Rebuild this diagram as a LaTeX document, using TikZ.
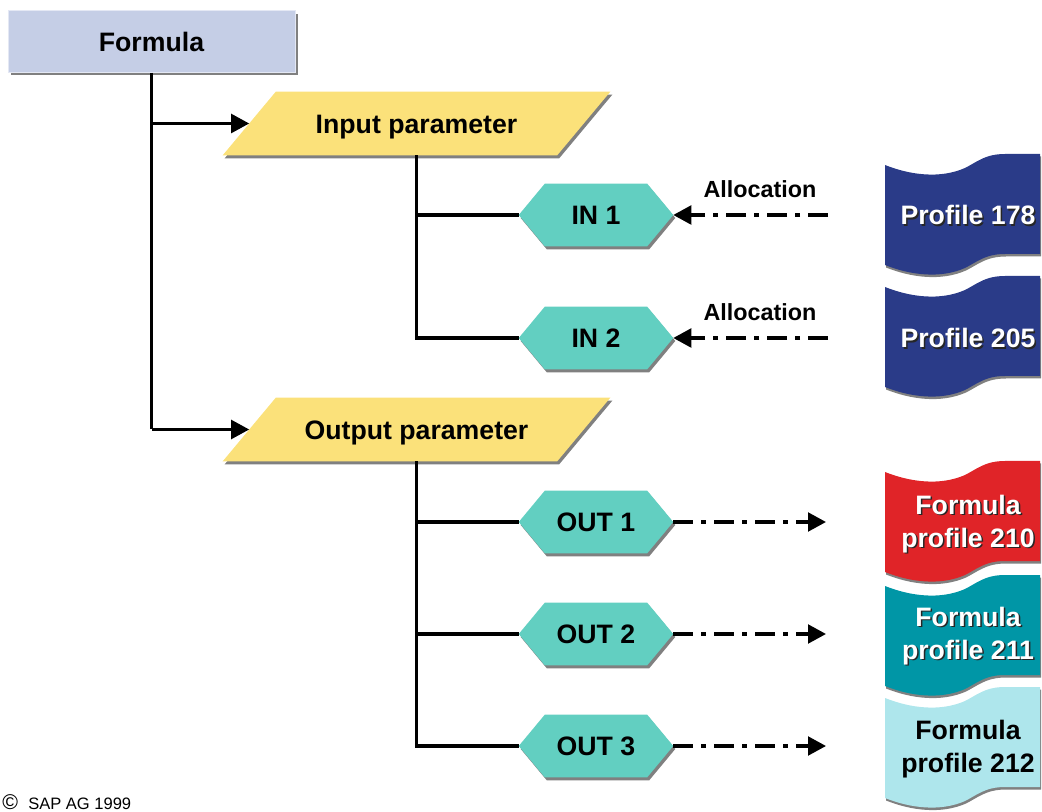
\documentclass[tikz,border=0pt]{standalone}
\usepackage{fontspec}
\setmainfont{Liberation Sans}
\usetikzlibrary{arrows.meta,calc,backgrounds}

\definecolor{formulafill}{HTML}{C5CEE6}
\definecolor{formulaedge}{HTML}{E4E8F4}
\definecolor{paramfill}{HTML}{FBE17A}
\definecolor{hexfill}{HTML}{62CFC1}
\definecolor{profblue}{HTML}{2A3B88}
\definecolor{profred}{HTML}{E02428}
\definecolor{profteal}{HTML}{0096A6}
\definecolor{proflight}{HTML}{AEE6EC}
\definecolor{shadowgray}{HTML}{808080}

\tikzset{
  mainfont/.style={font=\fontsize{20}{24.75}\selectfont\bfseries},
  captext/.style={text height=14.3pt, text depth=0pt},
  formulabox/.style={mainfont, captext, minimum width=215.25pt, minimum height=46.5pt, inner sep=0pt},
  parbox/.style={mainfont, captext, minimum width=250.5pt, minimum height=47.25pt, inner sep=0pt},
  hexbox/.style={mainfont, captext, minimum width=115.5pt, minimum height=46.5pt, inner sep=0pt},
  wire/.style={line width=2.4pt},
  wirearrow/.style={wire, -{Triangle[length=13.5pt,width=14pt]}},
  flowarrow/.style={line width=2.4pt, dash pattern=on 15pt off 6pt on 3.75pt off 6pt,
    -{Triangle[length=13.5pt,width=14pt]}},
  alloclabel/.style={font=\fontsize{17.5}{21}\selectfont\bfseries},
  proftext/.style={mainfont, align=center, text=white, inner sep=0pt},
  profshade/.style={mainfont, align=center, text=black!85, inner sep=0pt},
  profdark/.style={mainfont, align=center, text=black, inner sep=0pt},
}

% slanted parameter box: text node plus parallelogram behind it
\newcommand\slantbox[3]{%
  \node[parbox] (#1) at #2 {#3};
  \begin{pgfonlayer}{background}
    \fill[shadowgray] ($(#1.north west)+(28.5,3)$) -- ($(#1.north east)+(28.5,3)$)
      -- ($(#1.south east)+(-24.5,3)$) -- ($(#1.south west)+(-24.5,3)$) -- cycle;
    \fill[paramfill] ($(#1.north west)+(26.5,0)$) -- ($(#1.north east)+(26.5,0)$)
      -- ($(#1.south east)+(-26.5,0)$) -- ($(#1.south west)+(-26.5,0)$) -- cycle;
  \end{pgfonlayer}}

% hexagonal parameter node
\newcommand\hexnode[3]{%
  \node[hexbox] (#1) at #2 {#3};
  \begin{pgfonlayer}{background}
    \fill[shadowgray] ($(#1.west)+(2,3)$) -- ($(#1.north west)+(28,3)$)
      -- ($(#1.north east)+(-24,3)$) -- ($(#1.east)+(2,3)$)
      -- ($(#1.south east)+(-24,3)$) -- ($(#1.south west)+(28,3)$) -- cycle;
    \fill[hexfill] (#1.west) -- ($(#1.north west)+(26,0)$)
      -- ($(#1.north east)+(-26,0)$) -- (#1.east)
      -- ($(#1.south east)+(-26,0)$) -- ($(#1.south west)+(26,0)$) -- cycle;
  \end{pgfonlayer}}

% waved profile sheet, top left corner at (0,0)
\newcommand\sheetpath{(0,0) .. controls (25,10) and (55,14) .. (80,3)
  .. controls (92,-3) and (100,-11) .. (120,-11) -- (155,-11) -- (155,89)
  -- (120,89) .. controls (100,89) and (92,97) .. (80,103)
  .. controls (55,114) and (25,110) .. (0,100) -- cycle}

% profile sheet with white, shadowed label (#5 = label centre below the top)
\newcommand\profile[5]{%
  \fill[shadowgray, shift={(886,{#2+2.5})}] \sheetpath;
  \fill[#3, shift={(885,#2)}] \sheetpath;
  \node[profshade] (#1-shade) at (969.5,{#2+#5+1.5}) {#4};
  \node[proftext] (#1) at (968,{#2+#5}) {#4};}

\begin{document}
\begin{tikzpicture}[x=0.75pt, y=-0.75pt]
  \useasboundingbox (0,0) rectangle (1042,812);

  % top formula box
  \fill[shadowgray] (11,14) rectangle (298,75);
  \node[formulabox, fill=formulafill, draw=formulaedge, line width=0.75pt]
    (formula) at (151.5,41.5) {Formula};

  % parameter groups
  \slantbox{inpar}{(416.5,123.5)}{Input parameter}
  \slantbox{outpar}{(416.5,429.5)}{Output parameter}

  \hexnode{in1}{(596,215)}{IN 1}
  \hexnode{in2}{(596,338)}{IN 2}
  \hexnode{out1}{(596,522)}{OUT 1}
  \hexnode{out2}{(596,634)}{OUT 2}
  \hexnode{out3}{(596,746)}{OUT 3}

  % tree lines
  \draw[wire] (formula.south) -- (formula.south |- outpar.west);
  \draw[wirearrow] (formula.south |- inpar.west) -- (inpar.west);
  \draw[wirearrow] (formula.south |- outpar.west) -- (outpar.west);

  \draw[wire] (inpar.south) -- (inpar.south |- in2.west) -- (in2.west);
  \draw[wire] (inpar.south |- in1.west) -- (in1.west);
  \draw[wire] (outpar.south) -- (outpar.south |- out3.west) -- (out3.west);
  \draw[wire] (outpar.south |- out1.west) -- (out1.west);
  \draw[wire] (outpar.south |- out2.west) -- (out2.west);

  % profiles
  \profile{p178}{165}{profblue}{Profile 178}{50}
  \profile{p205}{287}{profblue}{Profile 205}{51}
  \profile{p210}{472}{profred}{Formula\\profile 210}{52}
  \profile{p211}{586}{profteal}{Formula\\profile 211}{50}
  \fill[shadowgray, shift={(886,700.5)}] \sheetpath;
  \fill[proflight, shift={(885,698)}] \sheetpath;
  \node[profdark] (p212) at (968,749) {Formula\\profile 212};

  % data flow
  \coordinate (src1) at (828,215);
  \coordinate (src2) at (828,338);
  \coordinate (dst1) at (826,522);
  \coordinate (dst2) at (826,634);
  \coordinate (dst3) at (826,746);
  \draw[flowarrow] (src1) -- (in1.east);
  \draw[flowarrow] (src2) -- (in2.east);
  \draw[flowarrow] (out1.east) -- (dst1);
  \draw[flowarrow] (out2.east) -- (dst2);
  \draw[flowarrow] (out3.east) -- (dst3);
  \node[alloclabel] (alloc1) at (760,189) {Allocation};
  \node[alloclabel] (alloc2) at (760,312) {Allocation};

  % footer
  \node[anchor=base west, inner sep=0pt, font=\fontsize{16}{18}\selectfont]
    (copysign) at (2,809) {©};
  \node[anchor=base west, inner sep=0pt, font=\fontsize{12.4}{14}\selectfont]
    (copytext) at (28,809) {SAP AG 1999};
\end{tikzpicture}
\end{document}
